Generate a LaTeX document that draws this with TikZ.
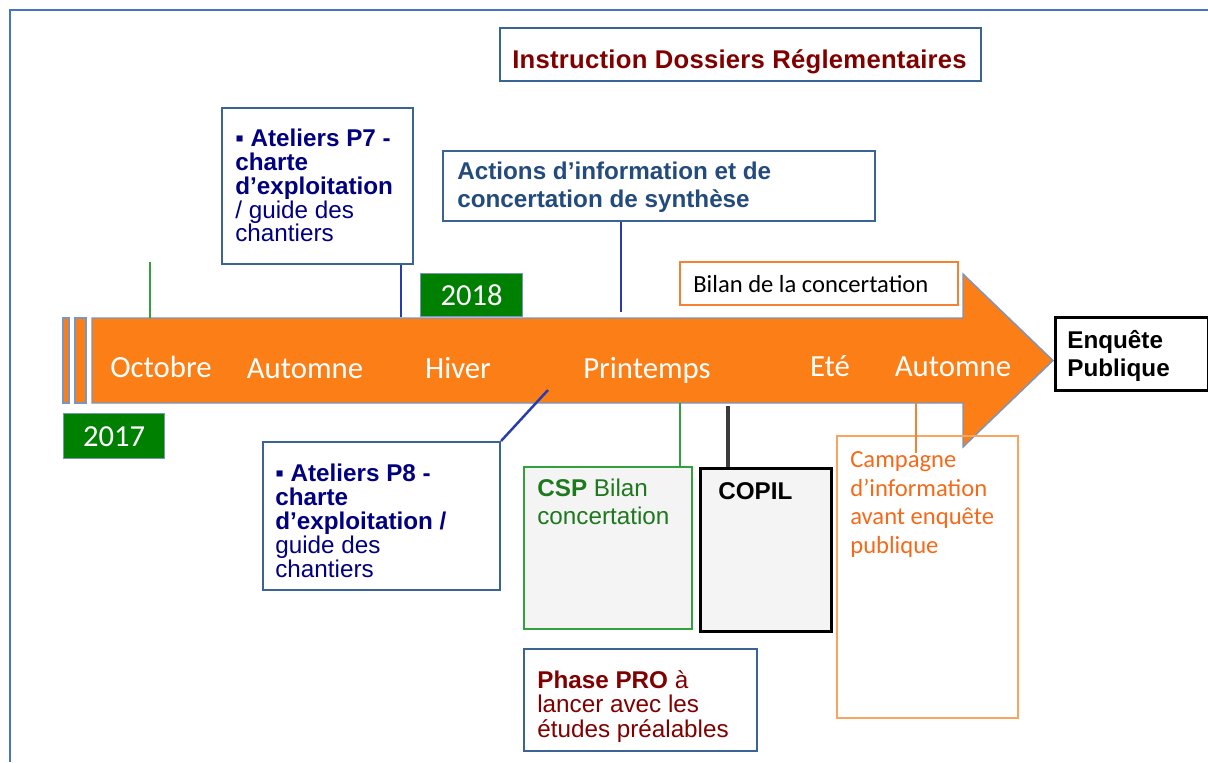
\documentclass[tikz,border=0pt]{standalone}
\usepackage{fontspec}
\setmainfont{Liberation Sans}
\newfontfamily\calibri{Carlito}
\usepackage{tikz}

\definecolor{cadrebleu}{RGB}{70,115,200}
\definecolor{acier}{RGB}{59,100,150}
\definecolor{marine}{RGB}{0,0,128}
\definecolor{bordeaux}{RGB}{128,0,0}
\definecolor{bleuaction}{RGB}{35,75,125}
\definecolor{orangefleche}{RGB}{251,127,22}
\definecolor{ombre}{RGB}{120,150,190}
\definecolor{vertan}{RGB}{0,128,0}
\definecolor{verttrait}{RGB}{50,160,60}
\definecolor{vertcsp}{RGB}{30,120,30}
\definecolor{gris}{RGB}{244,244,244}
\definecolor{orangetexte}{RGB}{245,105,25}
\definecolor{orangebord}{RGB}{245,130,50}
\definecolor{orangeclair}{RGB}{250,165,95}
\definecolor{traitbleu}{RGB}{40,60,175}
\definecolor{grisfonce}{RGB}{60,60,60}

\tikzset{
  boite/.style={
    rectangle,
    draw=acier,
    line width=1.2pt,
    fill=white,
    anchor=north west,
    inner sep=0pt
    },
  texte/.style={
    anchor=north west,
    inner sep=0pt,
    align=left,
    font=\fontsize{13.8}{15.9}\selectfont
    },
  annee/.style={
    rectangle,
    draw=ombre,
    line width=0.8pt,
    fill=vertan,
    text=white,
    anchor=north west,
    inner sep=0pt,
    font=\calibri\fontsize{17.4}{18}\selectfont
    },
  saison/.style={
    text=white,
    anchor=base,
    inner sep=0pt,
    font=\calibri\fontsize{17.5}{18}\selectfont
    },
  lien/.style={line width=1.4pt},
}

\begin{document}
\begin{tikzpicture}[x=0.02cm, y=-0.02cm]
  \useasboundingbox (0,0) rectangle (1208,762);

  % cadre
  \draw[cadrebleu, line width=1.2pt] (10,762) -- (10,10) -- (1208,10);

  % fleche du calendrier
  \filldraw[fill=orangefleche, draw=ombre, line width=0.8pt] (63,318) rectangle (69,403);
  \filldraw[fill=orangefleche, draw=ombre, line width=0.8pt] (75,318) rectangle (86,403);
  \filldraw[fill=orangefleche, draw=ombre, line width=0.8pt]
    (92,318) -- (963,318) -- (963,274) -- (1053,360.5) -- (963,447) -- (963,403) -- (92,403) -- cycle;

  % saisons
  \node[saison] (octobre) at (161,377) {Octobre};
  \node[saison] (automne1) at (305,378) {Automne};
  \node[saison] (hiver) at (458,378) {Hiver};
  \node[saison] (printemps) at (647,378) {Printemps};
  \node[saison] (ete) at (830,376) {Eté};
  \node[saison] (automne2) at (953,376) {Automne};

  % annees
  \node[annee, minimum width=2.02cm, minimum height=0.9cm] (a2017) at (63,413) {2017};
  \node[annee, minimum width=2.04cm, minimum height=0.86cm] (a2018) at (420,273) {2018};

  % reperes sur la fleche
  \coordinate (octhaut) at (150,262);
  \coordinate (octbas) at (150,318);
  \coordinate (p7pt) at (401,317);
  \coordinate (actpt) at (621,312);
  \coordinate (p8pt) at (548,390);
  \coordinate (csppt) at (680,403);
  \coordinate (copilpt) at (728,406);
  \coordinate (campt) at (916,403);
  \coordinate (campbas) at (916,453);

  % boites du haut
  \node[boite, minimum width=9.62cm, minimum height=1.06cm] (instr) at (499,27) {};
  \node[texte, anchor=base west, text=bordeaux, font=\fontsize{14.6}{16}\selectfont\bfseries]
    (instrtexte) at (512,68) {\addfontfeature{LetterSpace=1}Instruction Dossiers Réglementaires};

  \node[boite, minimum width=3.82cm, minimum height=3.12cm] (p7) at (221,107) {};
  \node[texte, text=marine, font=\fontsize{13.8}{13.5}\selectfont] (p7texte)
    at ([shift={(14,22)}]p7.north west)
    {\textbf{▪ Ateliers P7 -}\\\textbf{charte}\\\textbf{d’exploitation}\\/ guide des\\chantiers};

  \node[boite, minimum width=8.64cm, minimum height=1.40cm] (actions) at (442,150) {};
  \node[texte, text=bleuaction, font=\fontsize{13.8}{15.9}\selectfont\bfseries] (actionstexte)
    at ([shift={(15,12)}]actions.north west)
    {Actions d’information et de\\concertation de synthèse};

  \node[boite, draw=orangebord, minimum width=5.56cm, minimum height=0.86cm] (bilan) at (679,261) {};
  \node[texte, anchor=base west, font=\calibri\fontsize{14}{16}\selectfont]
    (bilantexte) at (693,292) {Bilan de la concertation};

  \node[boite, draw=black, line width=1.5pt, minimum width=3.06cm, minimum height=1.46cm] (enquete) at (1054,316) {};
  \node[texte, font=\fontsize{13.8}{16}\selectfont\bfseries] (enquetetexte)
    at ([shift={(13,14)}]enquete.north west) {Enquête\\Publique};

  % boites du bas
  \node[boite, minimum width=4.74cm, minimum height=2.96cm] (p8) at (262,441) {};
  \node[texte, text=marine, font=\fontsize{13.8}{13.6}\selectfont] (p8texte)
    at ([shift={(13,23)}]p8.north west)
    {\textbf{▪ Ateliers P8 -}\\\textbf{charte}\\\textbf{d’exploitation /}\\guide des\\chantiers};

  \node[boite, draw=verttrait, fill=gris, minimum width=3.36cm, minimum height=3.24cm] (csp) at (523,466) {};
  \node[texte, text=vertcsp] (csptexte)
    at ([shift={(14,13)}]csp.north west) {\textbf{CSP} Bilan\\concertation};

  \node[boite, draw=black, line width=1.6pt, fill=gris, minimum width=2.62cm, minimum height=3.26cm] (copil) at (699,467) {};
  \node[texte, anchor=base west, font=\fontsize{13.8}{15.9}\selectfont\bfseries]
    (copiltexte) at (718,499) {COPIL};

  \node[boite, minimum width=4.66cm, minimum height=2.04cm] (phase) at (523,648) {};
  \node[texte, text=bordeaux, font=\fontsize{13.8}{13.9}\selectfont] (phasetexte)
    at ([shift={(14,22)}]phase.north west)
    {\textbf{Phase PRO} à\\lancer avec les\\études préalables};

  \node[boite, draw=orangeclair, fill=none, minimum width=3.62cm, minimum height=5.64cm] (campagne) at (836,435) {};
  \node[texte, text=orangetexte, font=\calibri\fontsize{14}{16.4}\selectfont] (campagnetexte)
    at ([shift={(14,16)}]campagne.north west)
    {Campagne\\d’information\\avant enquête\\publique};

  % liens
  \draw[lien, verttrait] (octhaut) -- (octbas);
  \draw[lien, traitbleu] (p7.south -| p7pt) -- (p7pt);
  \draw[lien, traitbleu] (actions.south -| actpt) -- (actpt);
  \draw[lien, traitbleu] (p8.north east) -- (p8pt);
  \draw[lien, verttrait] (csppt) -- (csp.north -| csppt);
  \draw[line width=2pt, grisfonce] (copilpt) -- (copil.north -| copilpt);
  \draw[lien, orangebord] (campt) -- (campbas);
\end{tikzpicture}
\end{document}
